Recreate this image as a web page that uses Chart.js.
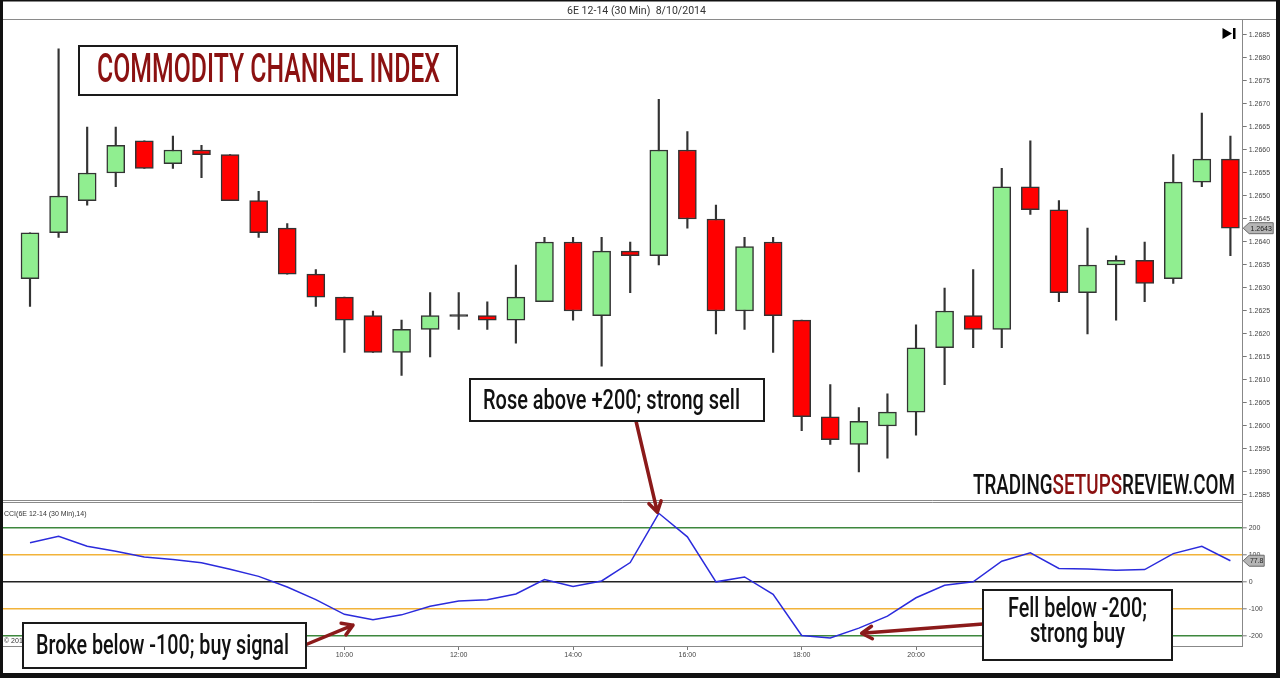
<!DOCTYPE html>
<html>
<head>
<meta charset="utf-8">
<title>Commodity Channel Index</title>
<script src="https://cdn.jsdelivr.net/npm/chart.js@4.4.1/dist/chart.umd.min.js"></script>
<style>
  html, body { margin: 0; padding: 0; background: #fff; }
  #wrap { width: 1280px; height: 678px; }
</style>
</head>
<body>
<div id="wrap"><canvas id="chart" width="1280" height="678"></canvas></div>
<script>
// 30 minute bars, 6E 12-14, 8/10/2014
const times = ['04:30', '05:00', '05:30', '06:00', '06:30', '07:00', '07:30', '08:00', '08:30', '09:00', '09:30',
  '10:00', '10:30', '11:00', '11:30', '12:00', '12:30', '13:00', '13:30', '14:00', '14:30', '15:00', '15:30',
  '16:00', '16:30', '17:00', '17:30', '18:00', '18:30', '19:00', '19:30', '20:00', '20:30', '21:00', '21:30',
  '22:00', '22:30', '23:00', '23:30', '00:00', '00:30', '01:00', '01:30'];
const timeTicks = ['06:00', '08:00', '10:00', '12:00', '14:00', '16:00', '18:00', '20:00', '22:00', '00:00'];

const opens = [1.2632, 1.2642, 1.2649, 1.2655, 1.2662, 1.2657, 1.2660, 1.2659, 1.2649, 1.2643,
  1.2633, 1.2628, 1.2624, 1.2616, 1.2621, 1.2624, 1.2624, 1.2623, 1.2627, 1.2640,
  1.2624, 1.2638, 1.2637, 1.2660, 1.2645, 1.2625, 1.2640, 1.2623, 1.2602, 1.2596,
  1.2600, 1.2603, 1.2617, 1.2624, 1.2621, 1.2652, 1.2647, 1.2629, 1.2635, 1.2636,
  1.2632, 1.2653, 1.2658];
const highs = [1.2642, 1.2682, 1.2665, 1.2665, 1.2662, 1.2663, 1.2661, 1.2659, 1.2651, 1.2644,
  1.2634, 1.2628, 1.2625, 1.2623, 1.2629, 1.2629, 1.2627, 1.2635, 1.2641, 1.2641,
  1.2641, 1.2640, 1.2671, 1.2664, 1.2648, 1.2641, 1.2641, 1.2623, 1.2609, 1.2604,
  1.2607, 1.2622, 1.2630, 1.2634, 1.2656, 1.2662, 1.2649, 1.2643, 1.2637, 1.2640,
  1.2659, 1.2668, 1.2663];
const lows = [1.2626, 1.2641, 1.2648, 1.2652, 1.2656, 1.2656, 1.2654, 1.2649, 1.2641, 1.2633,
  1.2626, 1.2616, 1.2616, 1.2611, 1.2615, 1.2621, 1.2621, 1.2618, 1.2627, 1.2623,
  1.2613, 1.2629, 1.2635, 1.2643, 1.2620, 1.2621, 1.2616, 1.2599, 1.2596, 1.2590,
  1.2593, 1.2598, 1.2609, 1.2617, 1.2617, 1.2646, 1.2627, 1.2620, 1.2623, 1.2627,
  1.2631, 1.2652, 1.2637];
const closes = [1.2642, 1.2650, 1.2655, 1.2661, 1.2656, 1.2660, 1.2659, 1.2649, 1.2642, 1.2633,
  1.2628, 1.2623, 1.2616, 1.2621, 1.2624, 1.2624, 1.2623, 1.2628, 1.2640, 1.2625,
  1.2638, 1.2637, 1.2660, 1.2645, 1.2625, 1.2639, 1.2624, 1.2602, 1.2597, 1.2601,
  1.2603, 1.2617, 1.2625, 1.2621, 1.2652, 1.2647, 1.2629, 1.2635, 1.2636, 1.2631,
  1.2653, 1.2658, 1.2643];

// CCI(14)
const cci = [144, 168, 131, 113, 92, 82, 70, 46, 20, -19,
  -66, -120, -140, -122, -90, -71, -66, -45, 8, -17,
  3, 71, 253, 166, 0, 18, -46, -198, -207, -171,
  -127, -59, -13, 0, 76, 107, 49, 47, 43, 45,
  104, 131, 77.8];

const priceTicks = [1.2585, 1.2590, 1.2595, 1.2600, 1.2605, 1.2610, 1.2615, 1.2620, 1.2625, 1.2630,
  1.2635, 1.2640, 1.2645, 1.2650, 1.2655, 1.2660, 1.2665, 1.2670, 1.2675, 1.2680, 1.2685];
const cciTicks = [-200, -100, 0, 100, 200];

const UP = '#90ee90';
const DOWN = '#ff0000';
const EDGE = '#333333';
const NOTE = '#8b1a1a';
const tickFont = { family: 'Liberation Sans', size: 7 };

// helpers for the overlay drawing
function narrowText(ctx, text, left, baseline, width, size, color, weight) {
  ctx.save();
  ctx.font = `${weight || 'normal'} ${size}px Roboto`;
  const w = ctx.measureText(text).width;
  ctx.translate(left, baseline);
  ctx.scale(width / w, 1);
  ctx.fillStyle = color;
  ctx.textBaseline = 'alphabetic';
  ctx.textAlign = 'left';
  ctx.fillText(text, 0, 0);
  ctx.restore();
}

function noteBox(ctx, l, t, r, b) {
  ctx.save();
  ctx.fillStyle = '#fff';
  ctx.fillRect(l, t, r - l, b - t);
  ctx.strokeStyle = '#1a1a1a';
  ctx.lineWidth = 2;
  ctx.strokeRect(l, t, r - l, b - t);
  ctx.restore();
}

function noteArrow(ctx, x0, y0, x1, y1) {
  const ang = Math.atan2(y1 - y0, x1 - x0);
  const h = 12;
  ctx.save();
  ctx.strokeStyle = NOTE;
  ctx.lineWidth = 3.5;
  ctx.lineCap = 'round';
  ctx.lineJoin = 'round';
  ctx.beginPath();
  ctx.moveTo(x0, y0);
  ctx.lineTo(x1, y1);
  ctx.moveTo(x1 - h * Math.cos(ang - 0.55), y1 - h * Math.sin(ang - 0.55));
  ctx.lineTo(x1, y1);
  ctx.lineTo(x1 - h * Math.cos(ang + 0.55), y1 - h * Math.sin(ang + 0.55));
  ctx.stroke();
  ctx.restore();
}

function valueTag(ctx, x, y, w, text) {
  ctx.save();
  ctx.beginPath();
  ctx.moveTo(x, y);
  ctx.lineTo(x + 6, y - 5.5);
  ctx.lineTo(x + w, y - 5.5);
  ctx.lineTo(x + w, y + 5.5);
  ctx.lineTo(x + 6, y + 5.5);
  ctx.closePath();
  ctx.fillStyle = '#b5b5b5';
  ctx.fill();
  ctx.strokeStyle = '#6a6a6a';
  ctx.lineWidth = 1;
  ctx.stroke();
  ctx.fillStyle = '#222';
  ctx.font = '7px "Liberation Sans"';
  ctx.textAlign = 'center';
  ctx.textBaseline = 'middle';
  ctx.fillText(text, x + 6 + (w - 6) / 2, y + 0.5);
  ctx.restore();
}

const overlay = {
  id: 'overlay',
  afterDraw(chart) {
    const ctx = chart.ctx;
    const { x, price, cci: cciScale } = chart.scales;
    const area = chart.chartArea;

    ctx.save();
    // panel borders
    ctx.strokeStyle = '#8a8a8a';
    ctx.lineWidth = 1;
    ctx.beginPath();
    ctx.moveTo(0, 19.5); ctx.lineTo(1280, 19.5);
    ctx.moveTo(area.left, price.bottom + 0.5); ctx.lineTo(area.right, price.bottom + 0.5);
    ctx.moveTo(area.left, price.bottom + 2.5); ctx.lineTo(area.right, price.bottom + 2.5);
    ctx.stroke();

    // outer frame
    ctx.fillStyle = '#111';
    ctx.fillRect(0, 0, 1280, 1.5);
    ctx.fillRect(0, 0, 3, 678);
    ctx.fillRect(1276, 0, 4, 678);
    ctx.fillRect(0, 673, 1280, 5);
    ctx.restore();

    // header
    narrowText(ctx, '6E 12-14 (30 Min)  8/10/2014', 567, 13.5, 139, 10, '#333');

    ctx.save();
    ctx.fillStyle = '#333';
    ctx.font = '7px "Liberation Sans"';
    ctx.textBaseline = 'middle';
    ctx.fillText('CCI(6E 12-14 (30 Min),14)', 4, cciScale.top + 14);
    ctx.fillText('\u00a9 2014 TradeStation', 4, 641);

    // end-of-chart marker
    ctx.fillStyle = '#000';
    ctx.beginPath();
    ctx.moveTo(1222.5, 28); ctx.lineTo(1232, 33.5); ctx.lineTo(1222.5, 39); ctx.closePath();
    ctx.fill();
    ctx.fillRect(1233, 28, 2.5, 11);
    ctx.restore();

    // last value tags
    const last = closes.length - 1;
    valueTag(ctx, area.right + 0.5, price.getPixelForValue(closes[last]), 30, closes[last].toFixed(4));
    valueTag(ctx, area.right + 0.5, cciScale.getPixelForValue(cci[last]), 21, cci[last].toFixed(1));

    // title
    noteBox(ctx, 79, 46, 457, 95);
    narrowText(ctx, 'COMMODITY CHANNEL INDEX', 97, 82, 343, 40, '#8b1111', '500');

    // watermark
    ctx.save();
    ctx.font = '500 27px Roboto';
    const parts = [['TRADING', '#111'], ['SETUPS', '#8b1111'], ['REVIEW.COM', '#111']];
    const full = ctx.measureText(parts.map(p => p[0]).join('')).width;
    const sx = 262 / full;
    let px = 973;
    parts.forEach(([t, c]) => {
      const w = ctx.measureText(t).width * sx;
      narrowText(ctx, t, px, 494, w, 27, c, '500');
      px += w;
    });
    ctx.restore();

    // annotations
    noteArrow(ctx, 636, 421, x.getPixelForValue(21.95), cciScale.getPixelForValue(257));
    noteBox(ctx, 470, 379, 764, 421);
    narrowText(ctx, 'Rose above +200; strong sell', 483, 408.5, 257, 28, '#111', '500');

    noteArrow(ctx, 305, 645, x.getPixelForValue(11.3), cciScale.getPixelForValue(-160));
    noteBox(ctx, 23, 623, 306, 668);
    narrowText(ctx, 'Broke below -100; buy signal', 36, 653.5, 253, 28, '#111', '500');

    noteArrow(ctx, 983, 624, x.getPixelForValue(29.1), cciScale.getPixelForValue(-190));
    noteBox(ctx, 983, 590, 1172, 660);
    narrowText(ctx, 'Fell below -200;', 1008, 617, 139, 28, '#111', '500');
    narrowText(ctx, 'strong buy', 1030, 642, 95, 28, '#111', '500');
  }
};

// doji: open == close, drawn as a thin dark bar
const bodies = opens.map((o, i) => ({
  x: i,
  y: o === closes[i] ? [o - 0.00002, o + 0.00002] : [o, closes[i]]
}));
const bodyColors = opens.map((o, i) => (closes[i] > o ? UP : closes[i] < o ? DOWN : EDGE));
const wicks = lows.map((l, i) => ({ x: i, y: [l, highs[i]] }));
const cciPoints = cci.map((v, i) => ({ x: i, y: v }));

const ctx = document.getElementById('chart').getContext('2d');

new Chart(ctx, {
  data: {
    datasets: [
      {
        type: 'bar',
        label: 'Body',
        data: bodies,
        yAxisID: 'price',
        backgroundColor: bodyColors,
        borderColor: EDGE,
        borderWidth: 1.5,
        borderSkipped: false,
        barThickness: 18,
        grouped: false,
        order: 1
      },
      {
        type: 'bar',
        label: 'Wick',
        data: wicks,
        yAxisID: 'price',
        backgroundColor: EDGE,
        borderWidth: 0,
        barThickness: 1.5,
        grouped: false,
        order: 2
      },
      {
        type: 'line',
        label: 'CCI',
        data: cciPoints,
        yAxisID: 'cci',
        borderColor: '#2b2bdc',
        borderWidth: 1.5,
        pointRadius: 0,
        tension: 0,
        order: 0
      }
    ]
  },
  options: {
    responsive: false,
    animation: false,
    events: [],
    layout: { padding: { left: 3, top: 20, right: 0, bottom: 0 } },
    plugins: {
      legend: { display: false },
      tooltip: { enabled: false }
    },
    scales: {
      x: {
        type: 'linear',
        offset: false,
        min: -0.945,
        max: 42.43,
        afterBuildTicks: s => { s.ticks = timeTicks.map(t => ({ value: times.indexOf(t) })); },
        afterFit: s => { s.height = 32; },
        ticks: {
          callback: v => times[v],
          font: tickFont,
          color: '#444',
          maxRotation: 0,
          autoSkip: false,
          padding: 1
        },
        grid: { drawOnChartArea: false, offset: false, tickLength: 4, color: '#777' },
        border: { display: true, color: '#888', width: 1 }
      },
      price: {
        type: 'linear',
        position: 'right',
        stack: 'panes',
        stackWeight: 480,
        min: 1.258391,
        max: 1.268826,
        afterBuildTicks: s => { s.ticks = priceTicks.map(v => ({ value: v })); },
        afterFit: s => { s.width = 37.3; },
        ticks: { callback: v => v.toFixed(4), font: tickFont, color: '#444', padding: 2 },
        grid: { drawOnChartArea: false, tickLength: 4, color: '#777' },
        border: { display: true, color: '#888', width: 1 }
      },
      cci: {
        type: 'linear',
        position: 'right',
        stack: 'panes',
        stackWeight: 146,
        min: -237,
        max: 302,
        afterBuildTicks: s => { s.ticks = cciTicks.map(v => ({ value: v })); },
        afterFit: s => { s.width = 37.3; },
        ticks: { font: tickFont, color: '#444', padding: 2 },
        grid: {
          drawOnChartArea: true,
          tickLength: 4,
          tickColor: '#777',
          tickWidth: 1,
          lineWidth: 1.6,
          color: c => {
            const v = Math.abs(c.tick.value);
            if (v === 200) return '#3d873d';
            if (v === 100) return '#f2b33a';
            return '#222';
          }
        },
        border: { display: true, color: '#888', width: 1 }
      }
    }
  },
  plugins: [overlay]
});
</script>
</body>
</html>
